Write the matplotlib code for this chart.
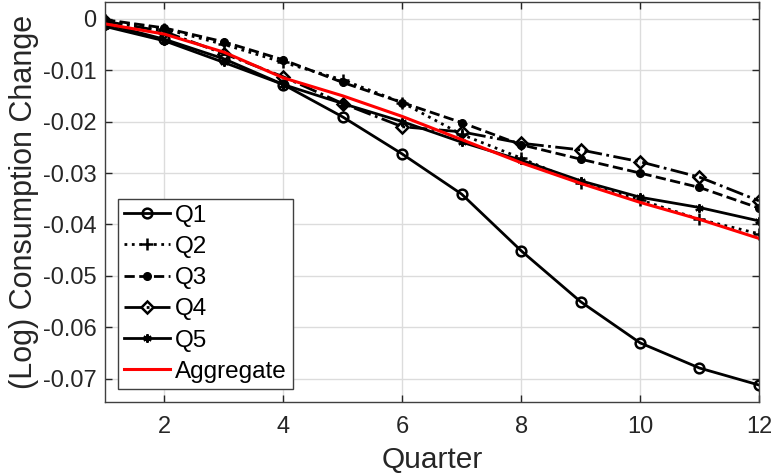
import matplotlib
matplotlib.use("Agg")
import matplotlib.pyplot as plt
from matplotlib.ticker import FixedLocator, FuncFormatter

quarters = [1, 2, 3, 4, 5, 6, 7, 8, 9, 10, 11, 12]
q1 = [-0.0010, -0.0040, -0.0078, -0.0128, -0.0191, -0.0263, -0.0341, -0.0451, -0.0550, -0.0630, -0.0679, -0.0712]
q2 = [-0.0003, -0.0020, -0.0050, -0.0085, -0.0119, -0.0163, -0.0225, -0.0271, -0.0320, -0.0352, -0.0390, -0.0418]
q3 = [-0.0002, -0.0018, -0.0045, -0.0080, -0.0124, -0.0163, -0.0202, -0.0245, -0.0273, -0.0300, -0.0328, -0.0368]
q4 = [-0.0005, -0.0025, -0.0068, -0.0113, -0.0165, -0.0210, -0.0220, -0.0242, -0.0255, -0.0278, -0.0308, -0.0354]
q5 = [-0.0015, -0.0043, -0.0085, -0.0128, -0.0165, -0.0200, -0.0240, -0.0275, -0.0315, -0.0347, -0.0367, -0.0393]
aggregate = [-0.0010, -0.0030, -0.0065, -0.0115, -0.0150, -0.0190, -0.0235, -0.0280, -0.0320, -0.0357, -0.0390, -0.0427]

xticks = [2, 4, 6, 8, 10, 12]
yticks = [-0.07, -0.06, -0.05, -0.04, -0.03, -0.02, -0.01, 0]

plt.rcParams['font.family'] = ['Liberation Sans', 'DejaVu Sans']

fig = plt.figure(figsize=(7.76, 4.75), dpi=100)
ax = fig.add_axes([0.1353, 0.1537, 0.8427, 0.8427])

asterisk = (6, 2, 0)
ax.plot(quarters, q1, color='black', lw=2, ls='-', marker='o', ms=7, mfc='none', mew=1.8, label='Q1')
ax.plot(quarters, q2, color='black', lw=2, ls=':', marker='+', ms=8, mew=1.8, label='Q2')
ax.plot(quarters, q3, color='black', lw=2, ls='--', marker='o', ms=5.5, mfc='black', label='Q3')
ax.plot(quarters, q4, color='black', lw=2, ls='-.', marker='D', ms=6, mfc='none', mew=1.8, label='Q4')
ax.plot(quarters, q5, color='black', lw=2, ls='-', marker=asterisk, ms=6, mew=1.5, label='Q5')
ax.plot(quarters, aggregate, color='red', lw=2.2, ls='-', label='Aggregate')

ax.set_xlim(1, 12)
ax.set_ylim(-0.0745, 0.0033)
ax.xaxis.set_major_locator(FixedLocator(xticks))
ax.yaxis.set_major_locator(FixedLocator(yticks))
ax.yaxis.set_major_formatter(FuncFormatter(lambda v, p: '0' if abs(v) < 1e-12 else ('%g' % v)))

ax.grid(True, color='#dcdcdc', lw=1)
ax.set_axisbelow(True)
ax.tick_params(direction='in', top=True, right=True, length=5, width=1,
               labelsize=17, colors='#262626')
ax.tick_params(axis='x', pad=10)
ax.tick_params(axis='y', pad=6)
for s in ax.spines.values():
    s.set_color('#404040')
    s.set_linewidth(1)

ax.set_xlabel('Quarter', fontsize=21.5, color='#262626', labelpad=6)
ax.set_ylabel('(Log) Consumption Change', fontsize=22, color='#262626', labelpad=3)

leg = ax.legend(loc='lower left', bbox_to_anchor=(0.02, 0.0325), borderaxespad=0,
                fontsize=17.5, handlelength=1.9, handletextpad=0.2, labelspacing=0.38,
                borderpad=0.25, fancybox=False, framealpha=1, edgecolor='#404040')
leg.get_frame().set_linewidth(1)

fig.savefig('out.png', dpi=100)
